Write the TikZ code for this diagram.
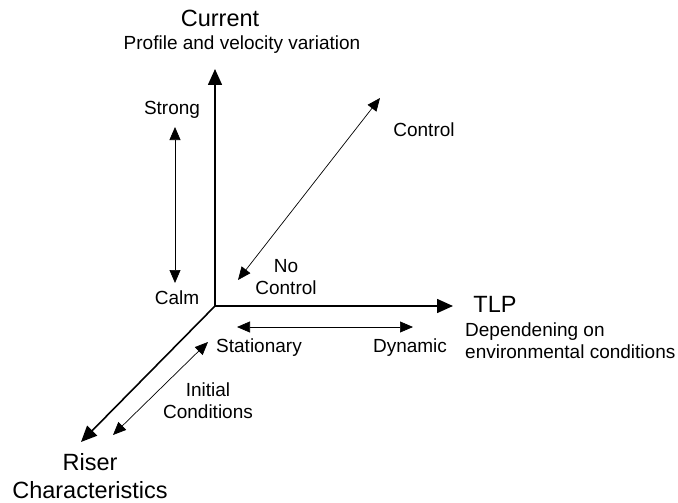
\documentclass[tikz,border=0pt]{standalone}
\usepackage{fontspec}
\setmainfont{Liberation Sans}
\usetikzlibrary{arrows.meta}

\begin{document}
\begin{tikzpicture}[x=1pt,y=-1pt,
  every node/.style={font=\fontsize{19}{22}\selectfont,inner sep=0pt},
  big/.style={font=\fontsize{23.5}{28}\selectfont},
  axis/.style={line width=1.6pt,-{Triangle[length=16pt,width=14pt]}},
  spanarrow/.style={line width=0.7pt,{Triangle[length=13pt,width=11pt]}-{Triangle[length=13pt,width=11pt]}}]
  \useasboundingbox (0,0) rectangle (678,503);
  % axes
  \coordinate (o) at (215,306);
  \coordinate (up) at (215,69);
  \coordinate (right) at (453,306);
  \coordinate (down) at (81,442);
  \draw[axis] (o) -- (up);
  \draw[axis] (o) -- (right);
  \draw[axis] (o) -- (down);
  \node[big] (current) at (220,18) {Current};
  \node (profile) at (242,45) {Profile and velocity variation};
  \node[big] (tlp) at (495,304) {TLP};
  \node[anchor=west,align=left] (tlpnote) at (465,341) {Dependening on\\environmental conditions};
  \node[big,align=center] (riser) at (90,476) {Riser\\Characteristics};
  % ranges
  \coordinate (strongend) at (175,127);
  \coordinate (calmend) at (175,283);
  \draw[spanarrow] (strongend) -- (calmend);
  \node (strong) at (172,110) {Strong};
  \node (calm) at (177,298) {Calm};
  \coordinate (ctrlend) at (380,98);
  \coordinate (noctrlend) at (238,280);
  \draw[spanarrow] (noctrlend) -- (ctrlend);
  \node (ctrl) at (424,130) {Control};
  \node[align=center] (noctrl) at (286,277) {No\\Control};
  \coordinate (statend) at (237,327);
  \coordinate (dynend) at (413,327);
  \draw[spanarrow] (statend) -- (dynend);
  \node (stat) at (259,348) {Stationary};
  \node (dyn) at (410,348) {Dynamic};
  \coordinate (initend) at (208,342);
  \coordinate (riserend) at (113,435);
  \draw[spanarrow] (riserend) -- (initend);
  \node[align=center] (init) at (208,401) {Initial\\Conditions};
\end{tikzpicture}
\end{document}
